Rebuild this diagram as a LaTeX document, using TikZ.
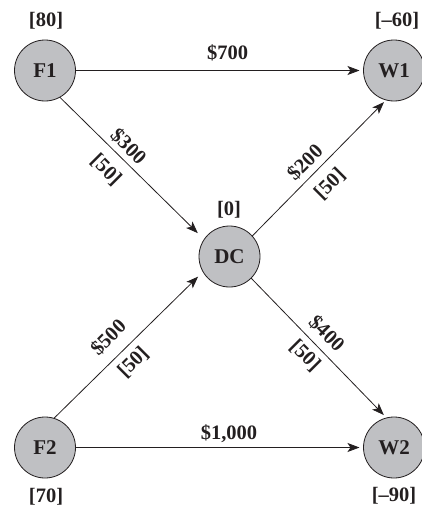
\documentclass[tikz,border=0pt]{standalone}
\usepackage{fontspec}
\setmainfont{Liberation Serif}
\usetikzlibrary{arrows.meta}
\definecolor{nodefill}{RGB}{191,192,195}
\definecolor{ink}{RGB}{35,31,32}
\tikzset{
  net/.style={circle, draw=ink, line width=0.8pt, fill=nodefill, minimum size=61pt,
    inner sep=0pt, outer sep=0pt, font=\fontsize{21}{24}\selectfont\bfseries, text=ink},
  lab/.style={font=\fontsize{20.5}{24}\selectfont\bfseries, text=ink, inner sep=0pt},
  arc/.style={draw=ink, line width=0.8pt, -{Stealth[length=12pt,width=9pt,inset=3pt]}}
}
\begin{document}
\begin{tikzpicture}[x=1pt,y=-1pt]
\useasboundingbox (0,0) rectangle (422,506);
% nodes
\node[net] (F1) at (45,70.5) {F1};
\node[net] (W1) at (394,70.5) {W1};
\node[net] (DC) at (229.5,256.5) {DC};
\node[net] (F2) at (45,447.5) {F2};
\node[net] (W2) at (394,447.5) {W2};
% supply / demand labels
\node[lab] (sF1) at (46,21) {[80]};
\node[lab] (sW1) at (397,21) {[–60]};
\node[lab] (sDC) at (229,210) {[0]};
\node[lab] (sF2) at (46,497) {[70]};
\node[lab] (sW2) at (394,496) {[–90]};
% arcs
\draw[arc, shorten >=4pt] (F1.east) -- (W1.west);
\draw[arc, shorten >=4pt] (F2.east) -- (W2.west);
\draw[arc, shorten >=9pt] (F1.-61) -- (DC.146);
\draw[arc, shorten >=7pt] (F2.73) -- (DC.210);
\draw[arc, shorten >=3pt] (DC.42) -- (W1.255);
\draw[arc, shorten >=4pt] (DC.-45) -- (W2.104);
% arc labels
\node[lab] (c700) at (227.5,53) {\$700};
\node[lab] (c1000) at (229,433.5) {\$1,000};
\node[lab, rotate=-45] (c300) at (128.5,146.5) {\$300};
\node[lab, rotate=-45] (u300) at (106,170) {[50]};
\node[lab, rotate=45] (c200) at (305,162.5) {\$200};
\node[lab, rotate=45] (u200) at (330,184) {[50]};
\node[lab, rotate=45] (c500) at (108.3,337.5) {\$500};
\node[lab, rotate=45] (u500) at (133.3,362.5) {[50]};
\node[lab, rotate=-45] (c400) at (326.7,333.3) {\$400};
\node[lab, rotate=-45] (u400) at (305,355.8) {[50]};
\end{tikzpicture}
\end{document}
